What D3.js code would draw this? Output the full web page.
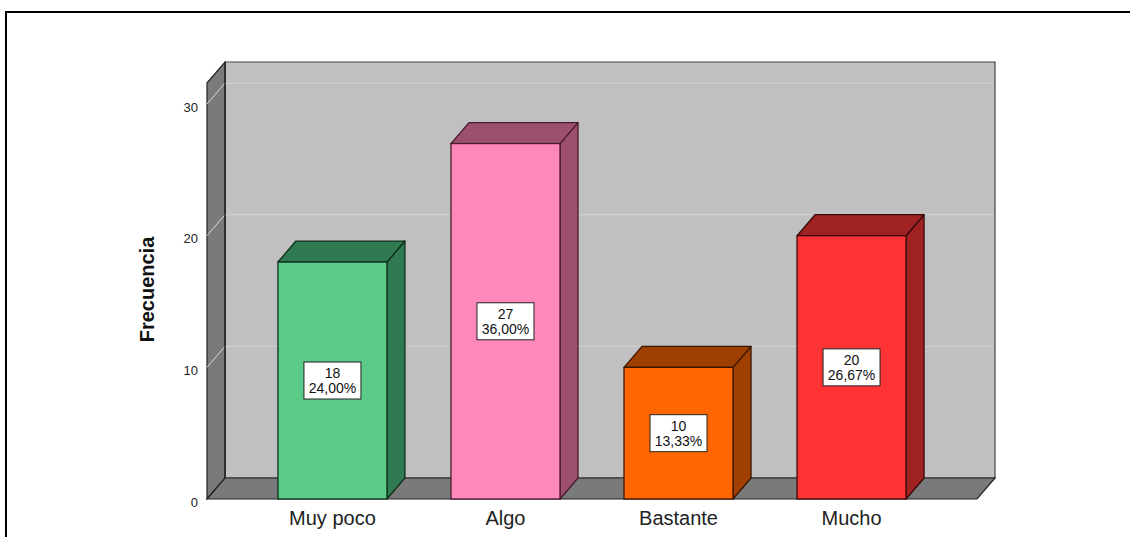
<!DOCTYPE html>
<html>
<head>
<meta charset="utf-8">
<script src="https://cdn.jsdelivr.net/npm/d3@7"></script>
<style>
  html, body { margin: 0; padding: 0; background: #fff; }
  svg { display: block; font-family: Arial, "Liberation Sans", sans-serif; }
</style>
</head>
<body>
<svg id="chart" width="1130" height="537"></svg>
<script>
// Frequency data
const categories = ["Muy poco", "Algo", "Bastante", "Mucho"];
const counts = [18, 27, 10, 20];
const percents = ["24,00%", "36,00%", "13,33%", "26,67%"];
const yTicks = [0, 10, 20, 30];
const yLabel = "Frecuencia";

// Bar colours: front face, side/top faces, outline
const frontColors = ["#5ccb8a", "#ff88bb", "#ff6600", "#ff3333"];
const sideColors  = ["#2f7a50", "#9c4f6e", "#a04000", "#9e2222"];
const edgeColors  = ["#10301d", "#4a1a2f", "#3a1500", "#3a0a0a"];

const svg = d3.select("#chart");
const W = 1130, H = 537;

// outer frame
svg.append("rect")
  .attr("x", 6).attr("y", 12)
  .attr("width", W + 10).attr("height", H + 10)
  .attr("fill", "#fff").attr("stroke", "#000").attr("stroke-width", 2);

// 3D depth offsets
const DX = 18, DY = -21;

const y = d3.scaleLinear().domain([0, 31.6]).range([499, 83]);
const x = d3.scaleBand().domain(categories).range([207, 977])
  .paddingInner(0.37).paddingOuter(0.41);

const x0 = x.range()[0], x1 = x.range()[1];
const yb = y(0), yt = y(y.domain()[1]);

const pts = a => a.map(p => p.join(",")).join(" ");

// back wall
svg.append("polygon")
  .attr("points", pts([[x0 + DX, yt + DY], [x1 + DX, yt + DY], [x1 + DX, yb + DY], [x0 + DX, yb + DY]]))
  .attr("fill", "#c0c0c0").attr("stroke", "#444").attr("stroke-width", 1.2);

// side wall
svg.append("polygon")
  .attr("points", pts([[x0, yt], [x0 + DX, yt + DY], [x0 + DX, yb + DY], [x0, yb]]))
  .attr("fill", "#7a7a7a").attr("stroke", "#222").attr("stroke-width", 1.2);

// floor
svg.append("polygon")
  .attr("points", pts([[x0, yb], [x0 + DX, yb + DY], [x1 + DX, yb + DY], [x1, yb]]))
  .attr("fill", "#7a7a7a").attr("stroke", "#222").attr("stroke-width", 1.2);

// grid lines on back wall and side wall
const grid = svg.append("g");
yTicks.filter(v => v > 0).forEach(v => {
  grid.append("line")
    .attr("x1", x0 + DX + 1).attr("x2", x1 + DX - 1)
    .attr("y1", y(v) + DY).attr("y2", y(v) + DY)
    .attr("stroke", "#d2d2d2").attr("stroke-width", 1);
  grid.append("line")
    .attr("x1", x0).attr("x2", x0 + DX)
    .attr("y1", y(v)).attr("y2", y(v) + DY)
    .attr("stroke", "#d8d8d8").attr("stroke-width", 1);
});
// inner edge where back wall meets side wall
svg.append("line")
  .attr("x1", x0 + DX).attr("x2", x0 + DX)
  .attr("y1", yt + DY).attr("y2", yb + DY)
  .attr("stroke", "#222").attr("stroke-width", 1.2);

// bars
const bars = svg.append("g").selectAll("g").data(categories).join("g");
bars.each(function (c, i) {
  const g = d3.select(this);
  const bx = x(c), bw = x.bandwidth(), top = y(counts[i]);
  // side face
  g.append("polygon")
    .attr("points", pts([[bx + bw, top], [bx + bw + DX, top + DY], [bx + bw + DX, yb + DY], [bx + bw, yb]]))
    .attr("fill", sideColors[i]).attr("stroke", edgeColors[i]).attr("stroke-width", 1.3)
    .attr("stroke-linejoin", "round");
  // top face
  g.append("polygon")
    .attr("points", pts([[bx, top], [bx + DX, top + DY], [bx + bw + DX, top + DY], [bx + bw, top]]))
    .attr("fill", sideColors[i]).attr("stroke", edgeColors[i]).attr("stroke-width", 1.3)
    .attr("stroke-linejoin", "round");
  // front face
  g.append("rect")
    .attr("x", bx).attr("y", top).attr("width", bw).attr("height", yb - top)
    .attr("fill", frontColors[i]).attr("stroke", edgeColors[i]).attr("stroke-width", 1.3);

  // value label
  const cx = bx + bw / 2, cy = (top + yb) / 2;
  const lab = g.append("g").attr("transform", `translate(${cx},${cy})`);
  lab.append("rect")
    .attr("x", -28.5).attr("y", -18.5).attr("width", 57).attr("height", 37)
    .attr("fill", "#fff").attr("stroke", "#222").attr("stroke-width", 1);
  lab.append("text")
    .attr("text-anchor", "middle").attr("y", -7.5).attr("dy", "0.35em")
    .attr("font-size", 14).attr("fill", "#111")
    .text(counts[i]);
  lab.append("text")
    .attr("text-anchor", "middle").attr("y", 7.5).attr("dy", "0.35em")
    .attr("font-size", 14).attr("fill", "#111")
    .text(percents[i]);
});

// y axis labels
const yAxis = svg.append("g")
  .attr("transform", `translate(${x0},0)`)
  .call(d3.axisLeft(y).tickValues(yTicks).tickSize(0).tickPadding(9));
yAxis.select(".domain").remove();
yAxis.selectAll("text")
  .attr("font-size", 13).attr("font-family", "Arial, 'Liberation Sans', sans-serif")
  .attr("fill", "#222").attr("dy", "0.55em");

// x axis labels
const xAxis = svg.append("g")
  .attr("transform", `translate(0,${yb})`)
  .call(d3.axisBottom(x).tickSize(0).tickPadding(12));
xAxis.select(".domain").remove();
xAxis.selectAll("text")
  .attr("font-size", 20).attr("font-family", "Arial, 'Liberation Sans', sans-serif")
  .attr("fill", "#222");

// y axis title
svg.append("text")
  .attr("transform", `translate(154,${(y(0) + y(30)) / 2 - 12}) rotate(-90)`)
  .attr("text-anchor", "middle")
  .attr("font-size", 20).attr("font-weight", "bold")
  .attr("fill", "#111")
  .text(yLabel);
</script>
</body>
</html>
